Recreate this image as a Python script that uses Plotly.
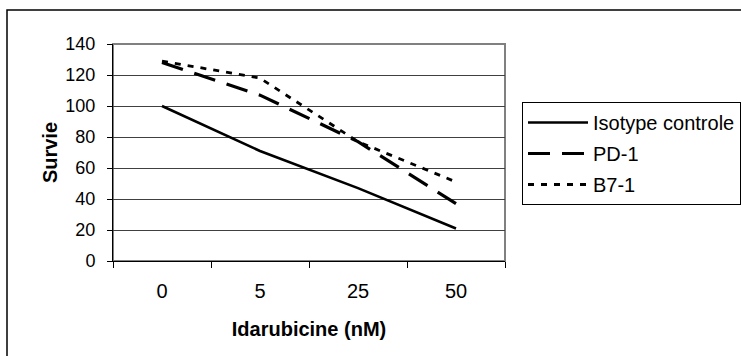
import plotly.graph_objects as go

categories = ["0", "5", "25", "50"]
isotype = [100, 71, 47, 21]
pd1 = [128, 107, 77, 37]
b71 = [129, 118, 77, 51]
y_ticks = [0, 20, 40, 60, 80, 100, 120, 140]

W, H = 741, 356
ml, mr, mt, mb = 113, 236, 44, 95
pw, ph = W - ml - mr, H - mt - mb

FONT = "Liberation Sans, Arial, sans-serif"

fig = go.Figure()
fig.add_trace(go.Scatter(x=categories, y=isotype, mode="lines", name="Isotype controle",
                         legendgroup="a", line=dict(color="black", width=2.6, dash="solid")))
fig.add_trace(go.Scatter(x=categories, y=pd1, mode="lines", name="PD-1",
                         legendgroup="b", line=dict(color="black", width=3.2, dash="22px,12px")))
fig.add_trace(go.Scatter(x=categories, y=b71, mode="lines", name="B7-1",
                         legendgroup="c", line=dict(color="black", width=2.8, dash="6px,7px")))

# plot-area border (gray) and outer chart frame (black)
fig.add_shape(type="rect", xref="paper", yref="paper", x0=0, x1=1, y0=0, y1=1,
              line=dict(color="#808080", width=2), layer="below")
fig.add_shape(type="rect", xref="paper", yref="paper",
              x0=(7 - ml) / pw, x1=(W + 20 - ml) / pw,
              y0=-(H + 20 - mt - ph) / ph, y1=(H - 10 - mb) / ph,
              line=dict(color="black", width=1.5), layer="below")

fig.update_layout(
    width=W, height=H,
    margin=dict(l=ml, r=mr, t=mt, b=mb, autoexpand=False),
    paper_bgcolor="white", plot_bgcolor="white",
    font=dict(family=FONT, color="black"),
    showlegend=True,
    legend=dict(x=(522 - ml) / pw, y=(H - 102 - mb) / ph, xanchor="left", yanchor="top",
                bordercolor="black", borderwidth=1, bgcolor="white", traceorder="grouped",
                font=dict(size=20, family=FONT), itemwidth=60, tracegroupgap=2),
    xaxis=dict(type="category", range=[-0.5, 3.5], tickson="boundaries", ticks="outside",
               ticklen=6, tickcolor="black", showline=True, linecolor="black", linewidth=1,
               showgrid=False, tickfont=dict(size=20), ticklabelstandoff=12,
               title=dict(text="<b>Idarubicine (nM)</b>", font=dict(size=20), standoff=20)),
    yaxis=dict(range=[0, 140], tickvals=y_ticks, ticks="outside", ticklen=5, tickcolor="black",
               showline=True, linecolor="black", linewidth=1, showgrid=True,
               gridcolor="#404040", gridwidth=1, tickfont=dict(size=18), ticklabelstandoff=8,
               zeroline=False,
               title=dict(text="<b>Survie</b>", font=dict(size=20), standoff=2)),
)

fig.write_html("out.html", config={"displayModeBar": False},
               post_script="document.body.style.margin='0';document.body.style.overflow='hidden';")
